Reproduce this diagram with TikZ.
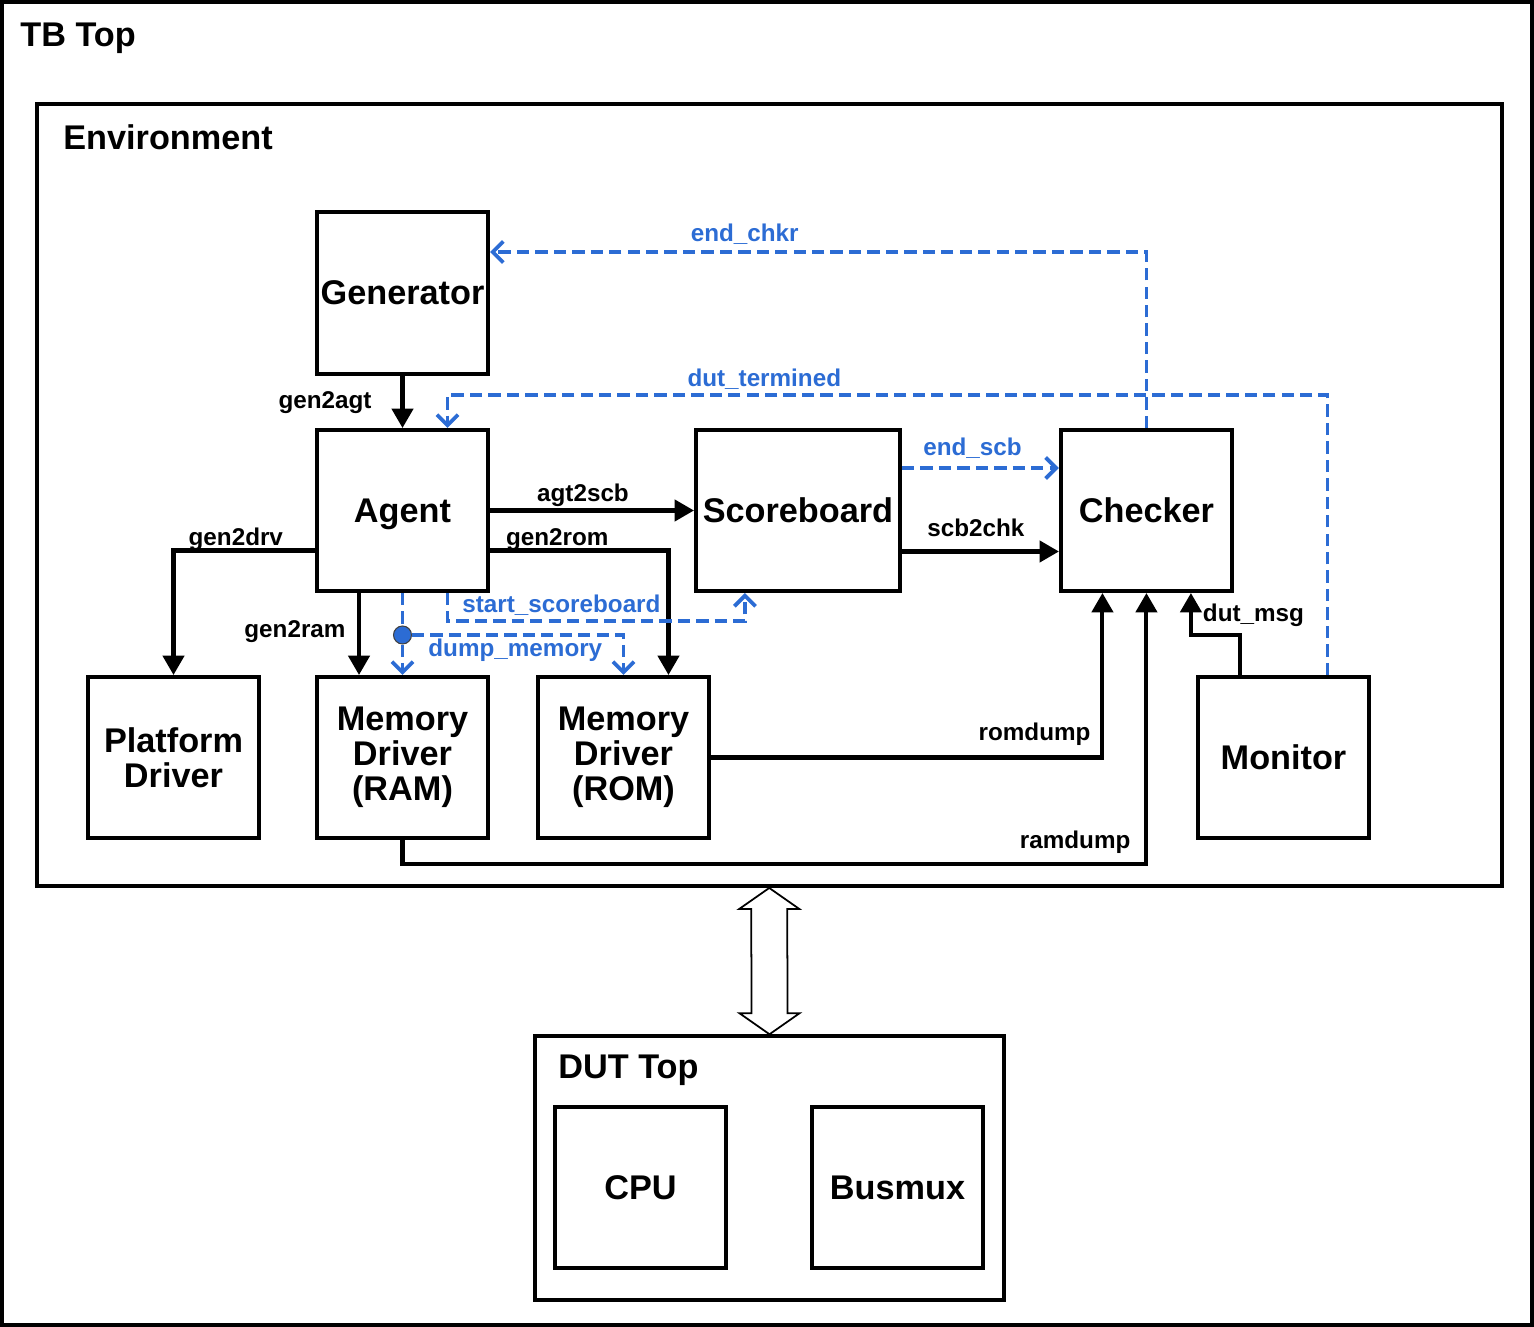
\documentclass[tikz,border=0pt]{standalone}
\usepackage{fontspec}
\setmainfont{Liberation Sans}
\usetikzlibrary{positioning,arrows.meta}

\begin{document}
\begin{tikzpicture}[x=0.02cm, y=-0.02cm, font=\bfseries,
    box/.style={rectangle, draw, line width=2.3pt, minimum width=3.42cm, minimum height=3.22cm, align=center, inner sep=0pt, text height=15.6pt, text depth=2pt, font=\fontsize{19.5}{20}\selectfont\bfseries},
    mbox/.style={box, text height=, text depth=},
    frame/.style={rectangle, draw, line width=2.3pt},
    title/.style={anchor=base west, inner sep=0pt, font=\fontsize{19.5}{20}\selectfont\bfseries},
    lbl/.style={inner sep=0pt, font=\fontsize{13.8}{14}\selectfont\bfseries},
    blbl/.style={lbl, text=sigblue},
    sig/.style={line width=2.3pt, -{Triangle[length=11pt,width=12pt]}},
    bsig/.style={line width=2.2pt, draw=sigblue, dash pattern=on 7pt off 3.5pt, -{Straight Barb[length=6pt,width=12pt]}},
    dot/.style={circle, fill=sigblue, draw=black!75, line width=0.6pt, minimum size=0.36cm, inner sep=0pt}]

    % Farben definieren
    \definecolor{sigblue}{RGB}{44,108,212}

    \useasboundingbox (0,0) rectangle (1534,1327);

    % --- Rahmen ---
    \node[frame, minimum width=30.6cm, minimum height=26.46cm] (tb) at (767,663.5) {};
    \node[title] (tbt) at (20,47) {TB Top};
    \node[frame, minimum width=29.31cm, minimum height=15.64cm] (env) at (769.25,495) {};
    \node[title] (envt) at (63,150) {Environment};
    \node[frame, minimum width=9.37cm, minimum height=5.27cm] (dut) at (769.5,1168) {};
    \node[title] (dutt) at (558,1078) {DUT Top};

    % --- Bloecke ---
    \node[box, minimum height=3.24cm] (gen) at (402.5,293) {Generator};
    \node[box, below=1.04cm of gen] (agt) {Agent};
    \node[box, minimum width=4.08cm, right=4.08cm of agt] (scb) {Scoreboard};
    \node[box, right=3.14cm of scb] (chk) {Checker};
    \node[mbox, below=1.64cm of agt] (ramd) {Memory\\Driver\\(RAM)};
    \node[mbox, left=1.08cm of ramd] (pd) {Platform\\Driver};
    \node[mbox, right=0.92cm of ramd] (rom) {Memory\\Driver\\(ROM)};
    \node[box] (mon) at (1283.5,757.5) {Monitor};
    \node[box] (cpu) at (640.5,1187.5) {CPU};
    \node[box, right=1.64cm of cpu] (bmx) {Busmux};

    % --- Datenpfade ---
    \draw[sig] (gen) -- node[lbl, anchor=base east, xshift=-0.58cm, yshift=-0.14cm]{gen2agt} (agt);
    \draw[sig] (agt) -- node[lbl, anchor=base, xshift=-0.18cm, yshift=0.18cm]{agt2scb} (scb);
    \draw[sig] ([yshift=-0.8cm]agt.east) node[lbl, anchor=base west, xshift=0.28cm, yshift=0.1cm]{gen2rom} -| ([xshift=0.9cm]rom.north);
    \draw[sig] ([yshift=-0.8cm]agt.west) node[lbl, anchor=base east, xshift=-0.6cm, yshift=0.1cm]{gen2drv} -| (pd.north);
    \draw[sig] ([xshift=-0.87cm]agt.south) -- node[lbl, anchor=base east, xshift=-0.23cm, yshift=-0.08cm]{gen2ram} ([xshift=-0.87cm]ramd.north);
    \draw[sig] ([yshift=-0.82cm]scb.east) -- node[lbl, anchor=base, xshift=-0.09cm, yshift=0.29cm]{scb2chk} ([yshift=-0.82cm]chk.west);
    \draw[sig] (rom.east) -| node[lbl, anchor=base east, xshift=-0.2cm, yshift=0.33cm]{romdump} ([xshift=-0.88cm]chk.south);
    \draw[sig] (ramd.south) -- ++(0,-0.48cm) -| node[lbl, anchor=base east, xshift=-0.28cm, yshift=0.3cm]{ramdump} (chk.south);
    \draw[sig] ([xshift=-0.87cm]mon.north) |- ([xshift=0.89cm,yshift=-0.84cm]chk.south) node[lbl, anchor=base west, xshift=0.2cm, yshift=0.26cm]{dut\_msg} -- ([xshift=0.89cm]chk.south);

    % --- Steuersignale ---
    \draw[bsig] (chk.north) |- node[blbl, pos=0.806, anchor=base, yshift=0.22cm]{end\_chkr} ([yshift=0.82cm]gen.east);
    \draw[bsig] ([xshift=0.88cm]mon.north) |- node[blbl, pos=0.82, anchor=base, yshift=0.18cm]{dut\_termined} ([xshift=0.9cm,yshift=0.66cm]agt.north) -- ([xshift=0.9cm]agt.north);
    \draw[bsig] ([yshift=0.85cm]scb.east) -- node[blbl, anchor=base, xshift=-0.16cm, yshift=0.26cm]{end\_scb} ([yshift=0.85cm]chk.west);
    \draw[bsig] ([xshift=0.9cm]agt.south) -- ++(0,-0.56cm) node[blbl, anchor=base west, xshift=0.26cm, yshift=0.18cm]{start\_scoreboard} -| ([xshift=-1.06cm]scb.south);
    \node[dot] (dmp) at ([yshift=-0.84cm]agt.south) {};
    \draw[bsig, -] (agt) -- (dmp);
    \draw[bsig] (dmp) -- (ramd);
    \draw[bsig] (dmp) node[blbl, anchor=base west, xshift=0.48cm, yshift=-0.44cm]{dump\_memory} -| (rom.north);

    % --- Doppelpfeil Environment <-> DUT ---
    \draw[line width=1pt, fill=white] (env.south) -- ++(30,21) -- ++(-12,0) -- ([xshift=0.36cm,yshift=0.42cm]dut.north) -- ++(12,0) -- (dut.north) -- ++(-30,-21) -- ++(12,0) -- ([xshift=-0.36cm,yshift=-0.42cm]env.south) -- ++(-12,0) -- cycle;

\end{tikzpicture}
\end{document}
